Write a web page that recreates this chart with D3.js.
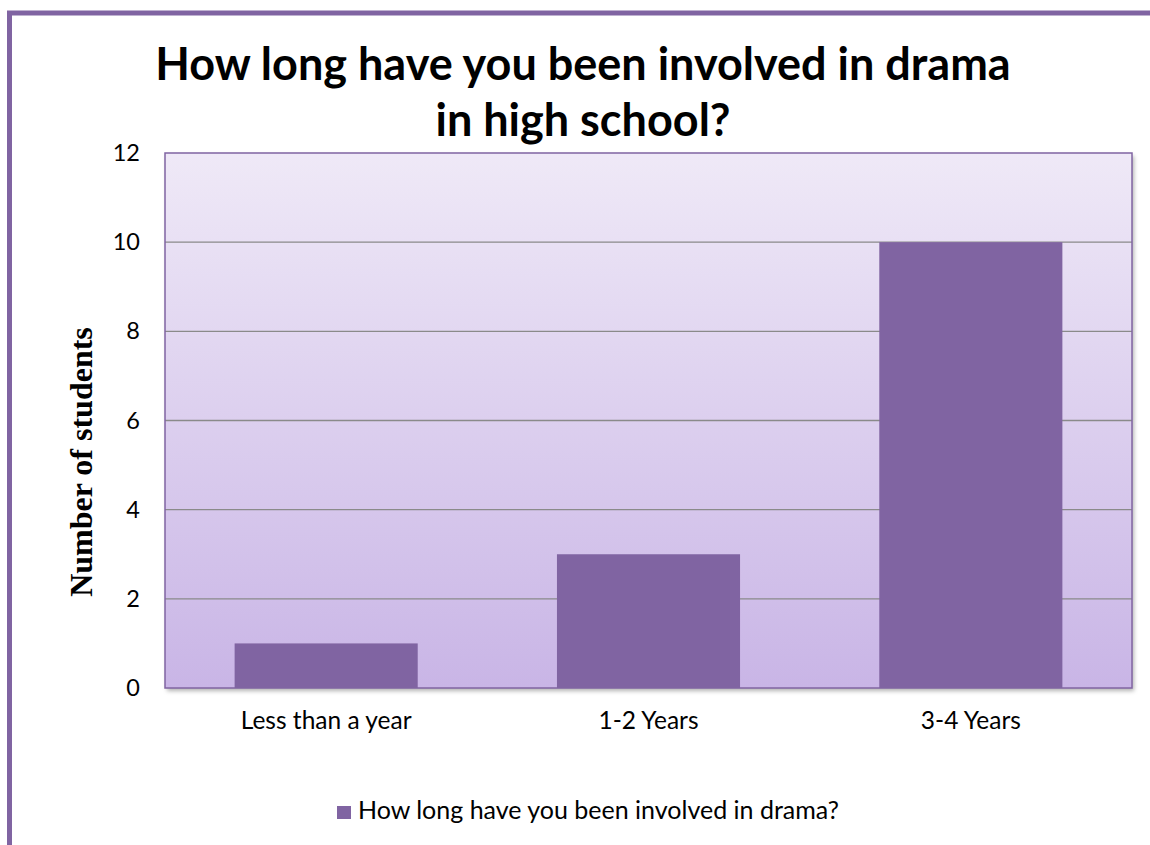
<!DOCTYPE html>
<html>
<head>
<meta charset="utf-8">
<script src="https://cdn.jsdelivr.net/npm/d3@7"></script>
<style>
  body { margin: 0; background: #fff; }
  text { font-family: Lato, "Open Sans", sans-serif; }
</style>
</head>
<body>
<svg id="chart" width="1150" height="845"></svg>
<script>
// chart data
const categories = ["Less than a year", "1-2 Years", "3-4 Years"];
const values = [1, 3, 10];
const yTicks = [0, 2, 4, 6, 8, 10, 12];
const seriesName = "How long have you been involved in drama?";
const titleLines = ["How long have you been involved in drama", "in high school?"];
const yLabel = "Number of students";

const width = 1150, height = 845;
const plot = {left: 165, right: 1132, top: 153, bottom: 688};
const purple = "#8064a2";
const labelSize = 24.5;

const svg = d3.select("#chart");
const defs = svg.append("defs");

const grad = defs.append("linearGradient")
    .attr("id", "bg")
    .attr("x1", 0).attr("y1", 0).attr("x2", 0).attr("y2", 1);
grad.append("stop").attr("offset", "0%").attr("stop-color", "#efe9f7");
grad.append("stop").attr("offset", "100%").attr("stop-color", "#c9b5e6");

const shadow = defs.append("filter").attr("id", "shadow")
    .attr("x", "-5%").attr("y", "-5%").attr("width", "110%").attr("height", "110%");
shadow.append("feDropShadow")
    .attr("dx", 2).attr("dy", 3).attr("stdDeviation", 2)
    .attr("flood-color", "#000").attr("flood-opacity", 0.3);

// outer frame (clipped by picture edge at right and bottom)
svg.append("rect")
    .attr("x", 9.5).attr("y", 13)
    .attr("width", width + 20).attr("height", height + 20)
    .attr("fill", "none")
    .attr("stroke", purple)
    .attr("stroke-width", 5);

const x = d3.scaleBand()
    .domain(categories)
    .range([plot.left, plot.right])
    .paddingInner(0.432)
    .paddingOuter(0.216);

const y = d3.scaleLinear()
    .domain([0, 12])
    .range([plot.bottom, plot.top]);

// plot area
svg.append("rect")
    .attr("x", plot.left).attr("y", plot.top)
    .attr("width", plot.right - plot.left)
    .attr("height", plot.bottom - plot.top)
    .attr("fill", "url(#bg)")
    .attr("filter", "url(#shadow)");

// gridlines
svg.append("g")
    .selectAll("line")
    .data(yTicks.filter(d => d > 0 && d < 12))
    .enter()
    .append("line")
        .attr("x1", plot.left).attr("x2", plot.right)
        .attr("y1", d => y(d)).attr("y2", d => y(d))
        .attr("stroke", "#8a8a8a")
        .attr("stroke-width", 1.3);

// bars
svg.append("g")
    .selectAll("rect")
    .data(values)
    .enter()
    .append("rect")
        .attr("x", (d, i) => x(categories[i]))
        .attr("y", d => y(d))
        .attr("width", x.bandwidth())
        .attr("height", d => y(0) - y(d))
        .attr("fill", purple);

// plot border
svg.append("rect")
    .attr("x", plot.left).attr("y", plot.top)
    .attr("width", plot.right - plot.left)
    .attr("height", plot.bottom - plot.top)
    .attr("fill", "none")
    .attr("stroke", purple)
    .attr("stroke-width", 1.5);

// y axis
const yAxis = svg.append("g")
    .attr("transform", "translate(" + (plot.left - 25) + ",0)")
    .call(d3.axisLeft(y).tickValues(yTicks).tickSize(0).tickPadding(0));
yAxis.select(".domain").remove();
yAxis.selectAll("text")
    .attr("font-size", 23.5)
    .attr("font-family", "Lato, 'Open Sans', sans-serif")
    .attr("fill", "#000");

// x axis
const xAxis = svg.append("g")
    .attr("transform", "translate(0," + plot.bottom + ")")
    .call(d3.axisBottom(x).tickSize(0).tickPadding(24));
xAxis.select(".domain").remove();
xAxis.selectAll("text")
    .attr("font-size", labelSize)
    .attr("font-family", "Lato, 'Open Sans', sans-serif")
    .attr("fill", "#000");

// title
svg.append("g")
    .selectAll("text")
    .data(titleLines)
    .enter()
    .append("text")
        .attr("x", 583)
        .attr("y", (d, i) => 80 + i * 56)
        .attr("text-anchor", "middle")
        .attr("font-size", 45)
        .attr("font-weight", "bold")
        .attr("fill", "#000")
        .text(d => d);

// y label
svg.append("text")
    .attr("transform", "translate(92,462) rotate(-90)")
    .attr("text-anchor", "middle")
    .style("font-family", "'Liberation Serif', 'Times New Roman', serif")
    .attr("font-size", 32)
    .attr("font-weight", "bold")
    .text(yLabel);

// legend
const legend = svg.append("g").attr("transform", "translate(337,806)");
legend.append("rect")
    .attr("width", 14).attr("height", 13)
    .attr("fill", purple);
legend.append("text")
    .attr("x", 21).attr("y", 13)
    .attr("font-size", 25)
    .attr("fill", "#000")
    .text(seriesName);
</script>
</body>
</html>
